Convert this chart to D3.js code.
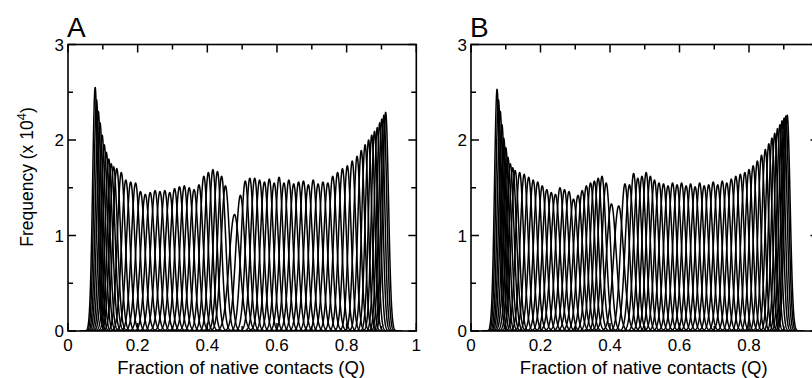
<!DOCTYPE html>
<html>
<head>
<meta charset="utf-8">
<script src="https://cdn.jsdelivr.net/npm/d3@7"></script>
<style>
  body { margin: 0; background: #fff; }
  text { font-family: "Liberation Sans", Arial, Helvetica, sans-serif; fill: #000; }
</style>
</head>
<body>
<svg id="chart" width="812" height="378"></svg>
<script>
// Axis ticks and labels
const qTicks = [0, 0.2, 0.4, 0.6, 0.8, 1];
const qMinorTicks = [0.1, 0.3, 0.5, 0.7, 0.9];
const freqTicks = [0, 1, 2, 3];
const freqMinorTicks = [0.5, 1.5, 2.5];
const xTitle = "Fraction of native contacts (Q)";
const yTitle = "Frequency (x 10";
const yTitleExp = "4";
const panelNames = ["A", "B"];

// Umbrella windows, panel A: histogram peak position (Q) and peak height (x 10^4)
const centersA = [
  0.078, 0.082, 0.087, 0.092, 0.098, 0.104, 0.110, 0.117, 0.124, 0.131,
  0.140, 0.153, 0.166, 0.180, 0.194, 0.208, 0.222, 0.236, 0.250, 0.264,
  0.278, 0.292, 0.306, 0.320, 0.334, 0.348, 0.362, 0.376, 0.390, 0.403,
  0.416, 0.429, 0.441, 0.452, 0.478, 0.495, 0.509, 0.522, 0.536, 0.550,
  0.564, 0.578, 0.592, 0.606, 0.620, 0.634, 0.648, 0.662, 0.676, 0.690,
  0.704, 0.718, 0.732, 0.746, 0.760, 0.774, 0.788, 0.802, 0.816, 0.830,
  0.842, 0.853, 0.863, 0.872, 0.880, 0.888, 0.895, 0.901, 0.907, 0.912
];
const peaksA = [
  2.55, 2.42, 2.30, 2.18, 2.05, 1.95, 1.87, 1.80, 1.75, 1.72,
  1.70, 1.66, 1.58, 1.56, 1.55, 1.46, 1.43, 1.45, 1.47, 1.46,
  1.47, 1.45, 1.49, 1.51, 1.52, 1.50, 1.48, 1.53, 1.62, 1.66,
  1.69, 1.67, 1.62, 1.52, 1.22, 1.42, 1.57, 1.60, 1.60, 1.58,
  1.56, 1.59, 1.55, 1.61, 1.55, 1.58, 1.54, 1.56, 1.57, 1.53,
  1.58, 1.54, 1.56, 1.55, 1.62, 1.66, 1.70, 1.73, 1.78, 1.83,
  1.89, 1.95, 2.00, 2.05, 2.09, 2.13, 2.18, 2.22, 2.26, 2.29
];

// Umbrella windows, panel B
const centersB = [
  0.075, 0.079, 0.084, 0.089, 0.094, 0.100, 0.106, 0.113, 0.120, 0.127,
  0.140, 0.153, 0.166, 0.179, 0.192, 0.205, 0.218, 0.231, 0.243, 0.256,
  0.269, 0.282, 0.295, 0.308, 0.320, 0.332, 0.344, 0.355, 0.366, 0.377,
  0.389, 0.404, 0.425, 0.443, 0.456, 0.468, 0.480, 0.492, 0.504, 0.516,
  0.528, 0.541, 0.554, 0.567, 0.580, 0.593, 0.606, 0.619, 0.632, 0.645,
  0.658, 0.671, 0.684, 0.697, 0.710, 0.723, 0.736, 0.749, 0.762, 0.775,
  0.788, 0.800, 0.812, 0.824, 0.836, 0.847, 0.857, 0.866, 0.874, 0.882,
  0.889, 0.895, 0.901, 0.906, 0.910
];
const peaksB = [
  2.53, 2.42, 2.30, 2.16, 2.02, 1.92, 1.82, 1.75, 1.71, 1.68,
  1.66, 1.64, 1.61, 1.58, 1.56, 1.52, 1.48, 1.45, 1.43, 1.50,
  1.48, 1.46, 1.38, 1.42, 1.47, 1.52, 1.55, 1.57, 1.60, 1.62,
  1.55, 1.33, 1.31, 1.54, 1.53, 1.65, 1.60, 1.62, 1.66, 1.62,
  1.58, 1.55, 1.54, 1.52, 1.55, 1.53, 1.55, 1.52, 1.54, 1.51,
  1.55, 1.52, 1.53, 1.56, 1.53, 1.57, 1.55, 1.59, 1.62, 1.64,
  1.66, 1.69, 1.73, 1.78, 1.84, 1.90, 1.96, 2.02, 2.07, 2.12,
  2.16, 2.20, 2.23, 2.25, 2.26
];

// Every window collects the same number of samples, so its histogram
// area (Q x 10^4 counts) is shared; width follows from the peak height.
const windowArea = 0.047;

const W = 812;
const svg = d3.select("#chart");

const panels = [
  { name: panelNames[0], centers: centersA, peaks: peaksA, left: 68, right: 416.3 },
  { name: panelNames[1], centers: centersB, peaks: peaksB, left: 471, right: 818.5 }
];
const plotTop = 44.5, plotBottom = 331;

panels.forEach((p, pi) => {
  const x = d3.scaleLinear().domain([0, 1]).range([p.left, p.right]);
  const y = d3.scaleLinear().domain([0, 3]).range([plotBottom, plotTop]);
  const g = svg.append("g");

  const clipId = "clip" + pi;
  svg.append("defs").append("clipPath").attr("id", clipId)
    .append("rect").attr("x", p.left).attr("y", plotTop)
    .attr("width", p.right - p.left).attr("height", plotBottom - plotTop);

  // Histograms of each window
  const line = d3.line().x(d => x(d[0])).y(d => y(d[1]));
  const curves = g.append("g").attr("clip-path", `url(#${clipId})`);
  p.centers.forEach((c, i) => {
    const h = p.peaks[i];
    const s = windowArea / (h * Math.sqrt(2 * Math.PI));
    const pts = d3.range(0, 241).map(k => {
      const q = c - 6 * s + (12 * s) * k / 240;
      return [q, h * Math.exp(-0.5 * ((q - c) / s) ** 2)];
    });
    curves.append("path").attr("d", line(pts))
      .attr("fill", "none").attr("stroke", "#000")
      .attr("stroke-width", 1.5).attr("stroke-linejoin", "round");
  });

  // Frame
  g.append("rect").attr("x", p.left).attr("y", plotTop)
    .attr("width", p.right - p.left).attr("height", plotBottom - plotTop)
    .attr("fill", "none").attr("stroke", "#000").attr("stroke-width", 1.6);

  // Inward ticks on all four sides
  const major = 8, minor = 5;
  const tk = g.append("g").attr("stroke", "#000").attr("stroke-width", 1.5);
  qTicks.concat(qMinorTicks).forEach(v => {
    const len = qTicks.includes(v) ? major : minor;
    tk.append("line").attr("x1", x(v)).attr("x2", x(v)).attr("y1", plotTop).attr("y2", plotTop + len);
    tk.append("line").attr("x1", x(v)).attr("x2", x(v)).attr("y1", plotBottom).attr("y2", plotBottom - len);
  });
  freqTicks.concat(freqMinorTicks).forEach(v => {
    const len = freqTicks.includes(v) ? major : minor;
    tk.append("line").attr("x1", p.left).attr("x2", p.left + len).attr("y1", y(v)).attr("y2", y(v));
    tk.append("line").attr("x1", p.right).attr("x2", p.right - len).attr("y1", y(v)).attr("y2", y(v));
  });

  // Tick labels (those that fall past the page edge are left out)
  g.selectAll(".xl").data(qTicks.filter(d => x(d) + 5 < W)).enter().append("text")
    .attr("x", d => x(d)).attr("y", plotBottom + 20)
    .attr("text-anchor", "middle").attr("font-size", 17)
    .text(d => String(d));
  g.selectAll(".yl").data(freqTicks).enter().append("text")
    .attr("x", p.left - 4).attr("y", d => y(d) + 6)
    .attr("text-anchor", "end").attr("font-size", 17)
    .text(d => d);

  // Axis title
  g.append("text").attr("x", (p.left + p.right) / 2 - 1).attr("y", 374)
    .attr("text-anchor", "middle").attr("font-size", 18.5).text(xTitle);

  // Panel letter
  g.append("text").attr("x", p.left - 1).attr("y", 37)
    .attr("font-size", 28).text(p.name);
});

// Y axis title on the first panel
const yt = svg.append("text")
  .attr("transform", "translate(33,177) rotate(-90)")
  .attr("text-anchor", "middle").attr("font-size", 17.5);
yt.append("tspan").text(yTitle);
yt.append("tspan").attr("dy", -7).attr("font-size", 13).text(yTitleExp);
yt.append("tspan").attr("dy", 7).text(")");
</script>
</body>
</html>
